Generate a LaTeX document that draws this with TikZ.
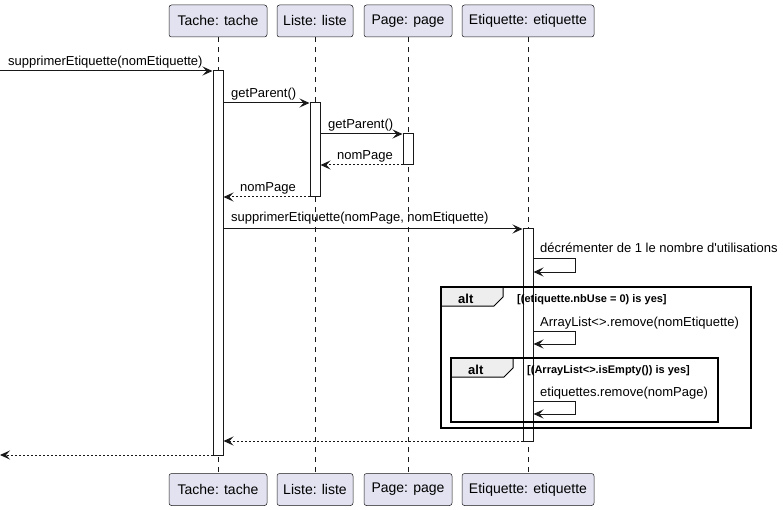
\documentclass[tikz,border=0pt]{standalone}
\usepackage{fontspec}
\setmainfont{Liberation Sans}
\usetikzlibrary{arrows.meta}
\definecolor{partfill}{HTML}{E2E2F0}
\definecolor{ink}{HTML}{181818}
\definecolor{tabfill}{HTML}{EEEEEE}
\tikzset{
  part/.style={draw=ink,line width=0.5pt,fill=partfill,rounded corners=2.5pt,minimum height=32pt,inner sep=0pt,font=\fontsize{14}{16}\selectfont},
  lifeline/.style={draw=ink,line width=0.5pt,dash pattern=on 5pt off 5pt},
  actbar/.style={draw=ink,line width=1pt,fill=white,minimum width=10pt,inner sep=0pt},
  msg/.style={draw=ink,line width=1pt,-{Stealth[length=10pt,width=9pt,inset=4pt]}},
  ret/.style={msg,dash pattern=on 2pt off 2pt},
  lbl/.style={anchor=base west,inner sep=0pt,font=\fontsize{13}{15}\selectfont},
  guard/.style={anchor=base west,inner sep=0pt,font=\fontsize{11}{13}\selectfont\bfseries},
  frameline/.style={draw=black,line width=1.5pt},
  tabtxt/.style={anchor=base west,inner sep=0pt,font=\fontsize{13}{15}\selectfont\bfseries},
}
\begin{document}
\begin{tikzpicture}[x=1pt,y=-1pt]
\useasboundingbox (0,0) rectangle (783,510);
% participants
\node[part,minimum width=98pt] (tacheT) at (218,21) {Tache: tache};
\node[part,minimum width=76pt] (listeT) at (315,21) {Liste: liste};
\node[part,minimum width=88pt] (pageT) at (408,21) {Page: page};
\node[part,minimum width=132pt] (etiqT) at (528,21) {Etiquette: etiquette};
\node[part,minimum width=98pt] (tacheB) at (218,489.5) {Tache: tache};
\node[part,minimum width=76pt] (listeB) at (315,489.5) {Liste: liste};
\node[part,minimum width=88pt] (pageB) at (408,489.5) {Page: page};
\node[part,minimum width=132pt] (etiqB) at (528,489.5) {Etiquette: etiquette};
% lifelines
\draw[lifeline] (tacheT.south) -- (tacheB.north);
\draw[lifeline] (listeT.south) -- (listeB.north);
\draw[lifeline] (pageT.south) -- (pageB.north);
\draw[lifeline] (etiqT.south) -- (etiqB.north);
% activation bars
\node[actbar,minimum height=384pt] (barT) at (218,263) {};
\node[actbar,minimum height=94pt] (barL) at (315,150) {};
\node[actbar,minimum height=31pt] (barP) at (408,149.5) {};
\node[actbar,minimum height=212pt] (barE) at (528,335) {};
% frames
\draw[line width=1pt,fill=tabfill] (441,287) -- (503,287) -- (503,297) -- (494,306) -- (441,306) -- cycle;
\draw[frameline] (441,287) rectangle (751,428);
\node[tabtxt] (alt1) at (458,303) {alt};
\node[guard] (g1) at (517,302) {[(etiquette.nbUse = 0) is yes]};
\draw[line width=1pt,fill=tabfill] (451,358) -- (513,358) -- (513,368) -- (504,377) -- (451,377) -- cycle;
\draw[frameline] (451,358) rectangle (718,422);
\node[tabtxt] (alt2) at (468,374) {alt};
\node[guard] (g2) at (527,373) {[(ArrayList<>.isEmpty()) is yes]};
% messages
\coordinate (start) at (0,71);
\draw[msg] (start) -- (barT.west |- start);
\node[lbl] (m1) at (8,66) {supprimerEtiquette(nomEtiquette)};
\coordinate (y2) at (0,103);
\draw[msg] (barT.east |- y2) -- (barL.west |- y2);
\node[lbl] (m2) at (231,98) {getParent()};
\coordinate (y3) at (0,134);
\draw[msg] (barL.east |- y3) -- (barP.west |- y3);
\node[lbl] (m3) at (328,129) {getParent()};
\coordinate (y4) at (0,165);
\draw[ret] (barP.west |- y4) -- (barL.east |- y4);
\node[lbl] (m4) at (337,160) {nomPage};
\coordinate (y5) at (0,197);
\draw[ret] (barL.west |- y5) -- (barT.east |- y5);
\node[lbl] (m5) at (240,192) {nomPage};
\coordinate (y6) at (0,229);
\draw[msg] (barT.east |- y6) -- (barE.west |- y6);
\node[lbl] (m6) at (231,222) {supprimerEtiquette(nomPage, nomEtiquette)};
% self messages
\coordinate (s1) at (575,259);
\draw[msg] (barE.east |- s1) -- (s1) -- ++(0,13) -- (barE.east |- 0,272);
\node[lbl] (m7) at (540,253) {décrémenter de 1 le nombre d\textquotesingle utilisations};
\coordinate (s2) at (575,331);
\draw[msg] (barE.east |- s2) -- (s2) -- ++(0,13) -- (barE.east |- 0,344);
\node[lbl] (m8) at (540,326) {ArrayList<>.remove(nomEtiquette)};
\coordinate (s3) at (575,401);
\draw[msg] (barE.east |- s3) -- (s3) -- ++(0,13) -- (barE.east |- 0,414);
\node[lbl] (m9) at (540,396) {etiquettes.remove(nomPage)};
% returns
\coordinate (y10) at (0,441);
\draw[ret] (barE.west |- y10) -- (barT.east |- y10);
\coordinate (endpt) at (0,455);
\draw[ret] (barT.west |- endpt) -- (endpt);
\end{tikzpicture}
\end{document}
